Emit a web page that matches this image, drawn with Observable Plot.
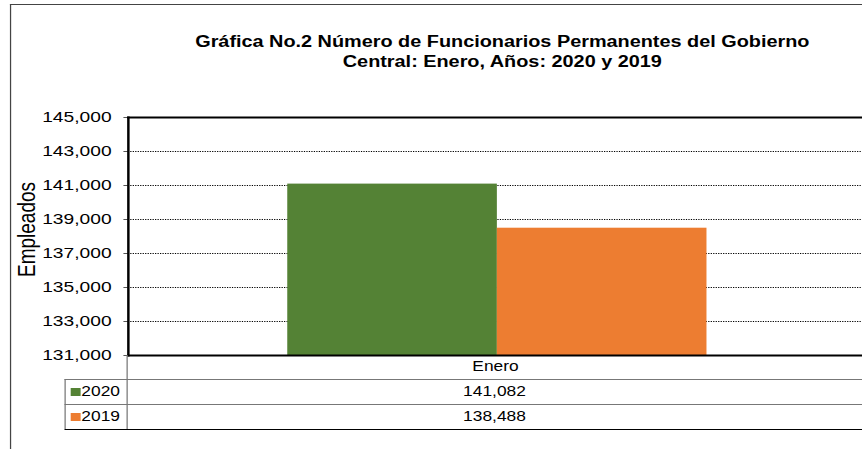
<!DOCTYPE html>
<html>
<head>
<meta charset="utf-8">
<script src="https://cdn.jsdelivr.net/npm/d3@7"></script>
<script src="https://cdn.jsdelivr.net/npm/@observablehq/plot@0.6"></script>
<style>
  html, body { margin: 0; padding: 0; background: #fff; overflow: hidden; }
  #wrap { position: relative; width: 695px; height: 449px; transform: scaleX(1.2403); transform-origin: 0 0;
          font-family: "Liberation Sans", Arial, sans-serif; color: #000; }
  .abs { position: absolute; }
  #title { left: 405px; top: 32px; transform: translateX(-50%); white-space: nowrap; text-align: center;
           font-weight: bold; font-size: 16px; line-height: 20px; }
  .cell { position: absolute; font-size: 14px; line-height: 25px; white-space: nowrap; }
</style>
</head>
<body>
<div id="wrap">
  <div class="abs" style="left:8px;top:4px;width:687px;height:445px;border-left:1px solid #444;border-top:1px solid #444;"></div>
  <div id="title" class="abs">Gráfica No.2 Número de Funcionarios Permanentes del Gobierno<br>Central: Enero, Años: 2020 y 2019</div>
  <div id="chart" class="abs" style="left:0;top:0;"></div>
  <div id="table"></div>
</div>
<script>
// ---- data ----
const categories = ["Enero"];
const series = ["2020", "2019"];
const values = [141082, 138488];
const colors = ["#548235", "#ED7D31"];
const yTicks = [131000, 133000, 135000, 137000, 139000, 141000, 143000, 145000];
const yLabel = "Empleados";

const data = series.map((s, i) => ({mes: categories[0], serie: s, valor: values[i]}));
const fmt = d3.format(",");

const W = 695, H = 379, ML = 102.4, MT = 117, MB = 24;

const chart = Plot.plot({
  width: W, height: H,
  marginTop: MT, marginBottom: MB, marginLeft: ML, marginRight: 0,
  style: {fontFamily: '"Liberation Sans", Arial, sans-serif', fontSize: "15.5px", color: "#000", background: "transparent", overflow: "visible"},
  y: {domain: [yTicks[0], yTicks[yTicks.length - 1]]},
  x: {domain: series, paddingInner: 0, paddingOuter: 0.742, align: 0.508, axis: null},
  fx: {domain: categories, padding: 0},
  color: {domain: series, range: colors},
  marks: [
    Plot.ruleY(yTicks.slice(1, -1), {stroke: "#000", strokeWidth: 1, strokeDasharray: "1,1"}),
    Plot.barY(data, {fx: "mes", x: "serie", y: "valor", fill: "serie", clip: true}),
    Plot.axisY({ticks: yTicks, tickSize: 3.5, tickPadding: 10, tickFormat: fmt, fontSize: 15.5, stroke: "#555", label: null}),
    Plot.text([yLabel], {frameAnchor: "left", textAnchor: "middle", lineAnchor: "middle", rotate: -90, dx: -81, dy: -7, fontSize: 19, fill: "#000"}),
    Plot.axisFx({anchor: "bottom", tickSize: 0, tickPadding: 6, fontSize: 14, label: null}),
    Plot.frame({anchor: "left", stroke: "#000", strokeWidth: 2}),
    Plot.frame({anchor: "top", stroke: "#000", strokeWidth: 2}),
    Plot.frame({anchor: "bottom", stroke: "#000", strokeWidth: 2})
  ]
});
document.getElementById("chart").appendChild(chart);

// ---- data table below the chart ----
const t = document.getElementById("table");
function line(style) { const d = document.createElement("div"); d.className = "abs"; d.style.cssText = style; t.appendChild(d); }
const tableLeft = 51.6, rowH = 25, top0 = H;
const plotBottom = H - MB;
// column divider continuing the axis
line(`left:${ML}px;top:${plotBottom}px;width:0;height:${top0 + rowH * series.length - plotBottom}px;border-left:1px solid #777;`);
series.forEach((s, i) => {
  const y = top0 + i * rowH;
  line(`left:${tableLeft}px;top:${y}px;width:${W - tableLeft}px;height:0;border-top:1px solid #777;`);
  const sw = document.createElement("div");
  sw.className = "abs";
  sw.style.cssText = `left:${tableLeft + 5}px;top:${y + 9}px;width:8px;height:8px;background:${colors[i]};`;
  t.appendChild(sw);
  const lab = document.createElement("div");
  lab.className = "cell";
  lab.style.cssText += `left:${tableLeft + 14}px;top:${y}px;`;
  lab.textContent = s;
  t.appendChild(lab);
  const val = document.createElement("div");
  val.className = "cell";
  val.style.cssText += `left:${ML}px;width:${W - ML}px;text-align:center;top:${y}px;`;
  val.textContent = fmt(values[i]);
  t.appendChild(val);
});
line(`left:${tableLeft}px;top:${top0}px;width:0;height:${rowH * series.length}px;border-left:1px solid #777;`);
line(`left:${tableLeft}px;top:${top0 + rowH * series.length}px;width:${W - tableLeft}px;height:0;border-top:1px solid #000;`);
</script>
</body>
</html>
